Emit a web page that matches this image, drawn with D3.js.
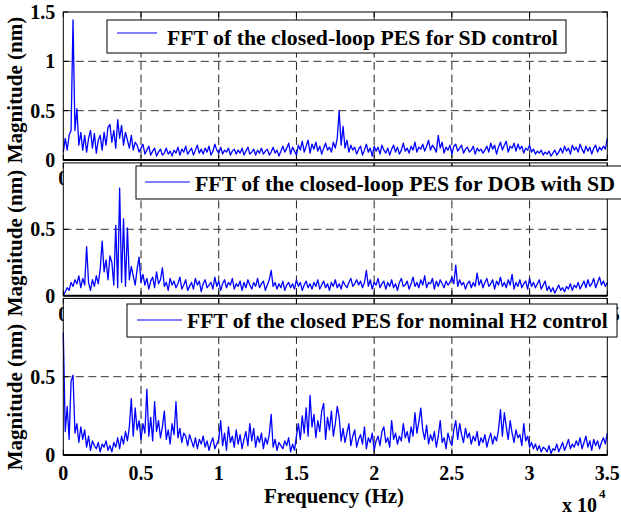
<!DOCTYPE html>
<html>
<head>
<meta charset="utf-8">
<style>
  body { margin: 0; background: #fff; }
  svg { display: block; }
  text { font-family: "Liberation Serif", "Times New Roman", serif; font-weight: bold; fill: #000; }
</style>
</head>
<body>
<svg width="621" height="516"></svg>
<script src="https://d3js.org/d3.v7.min.js"></script>
<script>

    // ---- data (one value per 125 Hz bin) ----
    var freqStep = 125;

    var sdMag = [
        0.08, 0.22, 0.10, 0.25, 0.30, 1.42, 0.30, 0.52, 0.15,
        0.28, 0.10, 0.25, 0.08, 0.22, 0.30, 0.12, 0.27,
        0.07, 0.20, 0.25, 0.10, 0.28, 0.15, 0.33, 0.36,
        0.18, 0.30, 0.12, 0.41, 0.22, 0.35, 0.15, 0.28,
        0.20, 0.12, 0.25, 0.10, 0.18, 0.15, 0.08, 0.12,
        0.16, 0.06, 0.10, 0.14, 0.05, 0.09, 0.12, 0.04,
        0.08, 0.11, 0.05, 0.07, 0.12, 0.06, 0.09, 0.04,
        0.10, 0.07, 0.13, 0.05, 0.11, 0.08, 0.14, 0.06,
        0.09, 0.12, 0.05, 0.10, 0.15, 0.07, 0.11, 0.06,
        0.12, 0.08, 0.14, 0.05, 0.09, 0.16, 0.10, 0.07,
        0.13, 0.06, 0.10, 0.08, 0.12, 0.05, 0.09, 0.11,
        0.06, 0.10, 0.07, 0.12, 0.05, 0.09, 0.13, 0.06,
        0.08, 0.11, 0.05, 0.10, 0.07, 0.12, 0.06, 0.09,
        0.11, 0.05, 0.08, 0.13, 0.07, 0.10, 0.04, 0.09,
        0.14, 0.08, 0.12, 0.17, 0.06, 0.13, 0.09, 0.05,
        0.15, 0.10, 0.19, 0.08, 0.14, 0.20, 0.07, 0.16,
        0.11, 0.18, 0.09, 0.14, 0.06, 0.12, 0.17, 0.10,
        0.13, 0.08, 0.18, 0.12, 0.22, 0.50, 0.15, 0.34,
        0.12, 0.20, 0.08, 0.15, 0.10, 0.13, 0.06, 0.11,
        0.14, 0.05, 0.10, 0.16, 0.08, 0.12, 0.04, 0.14,
        0.09, 0.13, 0.06, 0.15, 0.10, 0.07, 0.12, 0.05,
        0.11, 0.15, 0.08, 0.13, 0.06, 0.10, 0.17, 0.09,
        0.12, 0.07, 0.14, 0.10, 0.18, 0.08, 0.13, 0.11,
        0.16, 0.09, 0.14, 0.20, 0.10, 0.15, 0.12, 0.08,
        0.25, 0.12, 0.18, 0.07, 0.13, 0.10, 0.15, 0.06,
        0.14, 0.16, 0.09, 0.12, 0.15, 0.07, 0.11, 0.13,
        0.08, 0.10, 0.14, 0.06, 0.12, 0.09, 0.11, 0.07,
        0.10, 0.14, 0.08, 0.17, 0.11, 0.15, 0.06, 0.13,
        0.18, 0.10, 0.15, 0.19, 0.08, 0.14, 0.12, 0.17,
        0.09, 0.16, 0.11, 0.14, 0.07, 0.12, 0.10, 0.15,
        0.08, 0.11, 0.06, 0.09, 0.07, 0.10, 0.05, 0.08,
        0.06, 0.09, 0.04, 0.07, 0.10, 0.05, 0.08, 0.12,
        0.07, 0.14, 0.09, 0.12, 0.06, 0.15, 0.10, 0.13,
        0.08, 0.16, 0.11, 0.07, 0.14, 0.09, 0.13, 0.06,
        0.12, 0.15, 0.08, 0.13, 0.10, 0.14, 0.11, 0.22
    ];

    var dobMag = [
        0.00, 0.03, 0.06, 0.04, 0.10, 0.07, 0.12, 0.09, 0.15,
        0.06, 0.13, 0.08, 0.37, 0.10, 0.04, 0.12, 0.07,
        0.15, 0.09, 0.20, 0.41, 0.18, 0.27, 0.12, 0.30,
        0.25, 0.08, 0.53, 0.06, 0.81, 0.10, 0.58, 0.07,
        0.51, 0.12, 0.22, 0.15, 0.08, 0.20, 0.29, 0.10,
        0.16, 0.08, 0.13, 0.05, 0.11, 0.14, 0.06, 0.18,
        0.09, 0.12, 0.21, 0.07, 0.10, 0.04, 0.13, 0.08,
        0.11, 0.06, 0.09, 0.14, 0.05, 0.08, 0.12, 0.04,
        0.07, 0.10, 0.05, 0.13, 0.08, 0.11, 0.03, 0.09,
        0.12, 0.06, 0.08, 0.10, 0.05, 0.14, 0.07, 0.11,
        0.04, 0.09, 0.12, 0.06, 0.10, 0.08, 0.13, 0.05,
        0.09, 0.07, 0.11, 0.04, 0.10, 0.06, 0.12, 0.08,
        0.05, 0.10, 0.07, 0.13, 0.06, 0.09, 0.11, 0.04,
        0.08, 0.12, 0.19, 0.07, 0.10, 0.05, 0.09, 0.06,
        0.11, 0.04, 0.08, 0.10, 0.06, 0.09, 0.05, 0.12,
        0.07, 0.10, 0.04, 0.08, 0.11, 0.06, 0.09, 0.05,
        0.10, 0.07, 0.12, 0.05, 0.08, 0.11, 0.06, 0.09,
        0.04, 0.10, 0.07, 0.12, 0.06, 0.09, 0.05, 0.11,
        0.08, 0.06, 0.10, 0.13, 0.07, 0.09, 0.12, 0.08,
        0.11, 0.06, 0.10, 0.19, 0.07, 0.12, 0.05, 0.10,
        0.08, 0.13, 0.06, 0.09, 0.11, 0.05, 0.10, 0.07,
        0.12, 0.06, 0.09, 0.04, 0.10, 0.13, 0.07, 0.08,
        0.11, 0.05, 0.09, 0.14, 0.07, 0.10, 0.06, 0.12,
        0.08, 0.15, 0.06, 0.10, 0.09, 0.13, 0.05, 0.11,
        0.07, 0.12, 0.09, 0.06, 0.11, 0.08, 0.10, 0.14,
        0.09, 0.23, 0.07, 0.12, 0.08, 0.10, 0.05, 0.09,
        0.11, 0.06, 0.10, 0.07, 0.17, 0.08, 0.12, 0.06,
        0.10, 0.13, 0.07, 0.09, 0.12, 0.05, 0.11, 0.08,
        0.14, 0.07, 0.10, 0.06, 0.12, 0.08, 0.16, 0.05,
        0.10, 0.07, 0.12, 0.06, 0.09, 0.11, 0.05, 0.13,
        0.07, 0.10, 0.06, 0.09, 0.12, 0.05, 0.08, 0.11,
        0.04, 0.07, 0.03, 0.06, 0.02, 0.05, 0.08, 0.04,
        0.06, 0.03, 0.07, 0.05, 0.09, 0.04, 0.08, 0.06,
        0.10, 0.05, 0.08, 0.11, 0.06, 0.12, 0.07, 0.09,
        0.13, 0.06, 0.10, 0.14, 0.08, 0.11, 0.07, 0.10
    ];

    var h2Mag = [
        0.78, 0.15, 0.31, 0.10, 0.47, 0.51, 0.14, 0.20, 0.08,
        0.18, 0.10, 0.16, 0.05, 0.12, 0.03, 0.09, 0.06,
        0.04, 0.08, 0.02, 0.07, 0.05, 0.09, 0.03, 0.06,
        0.02, 0.08, 0.05, 0.11, 0.04, 0.12, 0.07, 0.15,
        0.09, 0.18, 0.36, 0.12, 0.30, 0.16, 0.22, 0.10,
        0.20, 0.14, 0.42, 0.12, 0.24, 0.09, 0.34, 0.15,
        0.22, 0.11, 0.18, 0.28, 0.10, 0.16, 0.07, 0.20,
        0.13, 0.34, 0.11, 0.17, 0.08, 0.14, 0.12, 0.06,
        0.13, 0.09, 0.05, 0.11, 0.04, 0.10, 0.07, 0.12,
        0.05, 0.09, 0.03, 0.08, 0.11, 0.04, 0.07, 0.10,
        0.22, 0.06, 0.14, 0.03, 0.18, 0.08, 0.12, 0.05,
        0.16, 0.07, 0.13, 0.04, 0.10, 0.15, 0.06, 0.20,
        0.09, 0.17, 0.05, 0.12, 0.08, 0.14, 0.04, 0.11,
        0.07, 0.13, 0.26, 0.05, 0.10, 0.03, 0.08, 0.06,
        0.04, 0.09, 0.06, 0.11, 0.02, 0.07, 0.03, 0.12,
        0.20, 0.10, 0.25, 0.14, 0.30, 0.12, 0.38, 0.18,
        0.26, 0.11, 0.22, 0.15, 0.28, 0.33, 0.10, 0.24,
        0.16, 0.28, 0.12, 0.20, 0.31, 0.24, 0.09, 0.17,
        0.08, 0.14, 0.20, 0.06, 0.12, 0.16, 0.05, 0.10,
        0.13, 0.07, 0.18, 0.04, 0.11, 0.08, 0.14, 0.03,
        0.09, 0.12, 0.06, 0.15, 0.18, 0.08, 0.11, 0.05,
        0.22, 0.10, 0.14, 0.07, 0.12, 0.09, 0.20, 0.11,
        0.15, 0.08, 0.18, 0.12, 0.27, 0.14, 0.21, 0.30,
        0.16, 0.10, 0.19, 0.07, 0.13, 0.09, 0.15, 0.05,
        0.12, 0.22, 0.08, 0.11, 0.04, 0.14, 0.09, 0.06,
        0.16, 0.22, 0.10, 0.20, 0.13, 0.08, 0.17, 0.11,
        0.14, 0.07, 0.12, 0.09, 0.15, 0.06, 0.11, 0.08,
        0.13, 0.05, 0.10, 0.14, 0.07, 0.12, 0.09, 0.16,
        0.29, 0.12, 0.27, 0.18, 0.10, 0.22, 0.14, 0.08,
        0.16, 0.11, 0.13, 0.06, 0.20, 0.09, 0.12, 0.05,
        0.08, 0.04, 0.07, 0.03, 0.06, 0.02, 0.05, 0.04,
        0.02, 0.06, 0.01, 0.04, 0.03, 0.07, 0.02, 0.05,
        0.08, 0.03, 0.06, 0.10, 0.04, 0.07, 0.05, 0.09,
        0.06, 0.11, 0.04, 0.08, 0.12, 0.05, 0.09, 0.03,
        0.10, 0.06, 0.09, 0.04, 0.08, 0.11, 0.07, 0.14
    ];

    var legendLabels = [
        "FFT of the closed-loop PES for SD control",
        "FFT of the closed-loop PES for DOB with SD",
        "FFT of the closed PES for nominal H2 control"
    ];

    var xTickValues = [0, 5000, 10000, 15000, 20000, 25000, 30000, 35000];
    var xTickLabels = ["0", "0.5", "1", "1.5", "2", "2.5", "3", "3.5"];
    var yTicksTop = [0, 0.5, 1, 1.5];
    var yTicksLow = [0, 0.5];

    /* --------------------
     Layout
   -------------------- */
    var svg = d3.select("svg");

    var x = d3.scaleLinear().domain([0, 35000]).range([63.3, 607.3]);

    // showX: which x tick labels peek out from under the next panel
    var panels = [
        { data: sdMag,  top: 12,    bottom: 160,   ymax: 1.5, ticks: yTicksTop, labelY: 90,
          showX: [0],
          box: [107, 20, 566, 53],   line: [117, 157, 33],  text: [167, 45],  width: 391 },
        { data: dobMag, top: 162.9, bottom: 295.7, ymax: 1,   ticks: yTicksLow, labelY: 243,
          showX: [0, 35000],
          box: [136, 166, 640, 199], line: [145, 190, 182], text: [195, 191], width: 420 },
        { data: h2Mag,  top: 298.4, bottom: 455,   ymax: 1,   ticks: yTicksLow, labelY: 397,
          showX: xTickValues,
          box: [127, 304, 617, 337], line: [137, 182, 320], text: [187, 328], width: 421 }
    ];

    var x0 = x.range()[0], x1 = x.range()[1];

    panels.forEach(function(p, k) {
        var y = d3.scaleLinear().domain([0, p.ymax]).range([p.bottom, p.top]);
        var g = svg.append("g");

        // x tick labels first, so the next panel can sit on top of them
        g.selectAll(".xl")
            .data(p.showX)
            .enter().append("text")
            .attr("x", function(d) { return x(d); })
            .attr("y", p.bottom + 25)
            .attr("text-anchor", "middle")
            .style("font-size", "20px")
            .text(function(d) { return xTickLabels[xTickValues.indexOf(d)]; });

        // axes background hides what the panel above printed underneath it
        g.append("rect")
            .attr("x", x0).attr("y", p.top)
            .attr("width", x1 - x0).attr("height", p.bottom - p.top)
            .attr("fill", "#fff");

        // grid
        g.selectAll(".vg")
            .data(xTickValues.slice(1, -1))
            .enter().append("line")
            .attr("x1", function(d) { return x(d); })
            .attr("x2", function(d) { return x(d); })
            .attr("y1", p.top).attr("y2", p.bottom)
            .attr("stroke", "#222").attr("stroke-width", 1)
            .attr("stroke-dasharray", "8,4.5");

        g.selectAll(".hg")
            .data(p.ticks.filter(function(t) { return t > 0 && t < p.ymax; }))
            .enter().append("line")
            .attr("x1", x0).attr("x2", x1)
            .attr("y1", function(d) { return y(d); })
            .attr("y2", function(d) { return y(d); })
            .attr("stroke", "#333").attr("stroke-width", 1)
            .attr("stroke-dasharray", "8,4.5");

        // the spectrum
        var line = d3.line()
            .x(function(d, i) { return x(i * freqStep); })
            .y(function(d) { return y(d); });

        g.append("path")
            .datum(p.data)
            .attr("d", line)
            .attr("fill", "none")
            .attr("stroke", "#0000ff")
            .attr("stroke-width", 1.3)
            .attr("stroke-linejoin", "round");

        // box
        g.append("rect")
            .attr("x", x0).attr("y", p.top)
            .attr("width", x1 - x0).attr("height", p.bottom - p.top)
            .attr("fill", "none").attr("stroke", "#000").attr("stroke-width", 1);
        g.append("line")
            .attr("x1", x0).attr("x2", x1)
            .attr("y1", p.bottom).attr("y2", p.bottom)
            .attr("stroke", "#000").attr("stroke-width", 2);

        // inward ticks on all sides
        var tl = 5;
        xTickValues.forEach(function(v) {
            g.append("line").attr("x1", x(v)).attr("x2", x(v))
                .attr("y1", p.bottom).attr("y2", p.bottom - tl).attr("stroke", "#000");
            g.append("line").attr("x1", x(v)).attr("x2", x(v))
                .attr("y1", p.top).attr("y2", p.top + tl).attr("stroke", "#000");
        });
        p.ticks.forEach(function(v) {
            g.append("line").attr("x1", x0).attr("x2", x0 + tl)
                .attr("y1", y(v)).attr("y2", y(v)).attr("stroke", "#000");
            g.append("line").attr("x1", x1).attr("x2", x1 - tl)
                .attr("y1", y(v)).attr("y2", y(v)).attr("stroke", "#000");
        });

        // y tick labels
        g.selectAll(".yl")
            .data(p.ticks)
            .enter().append("text")
            .attr("x", x0 - 8)
            .attr("y", function(d) { return y(d) + 7; })
            .attr("text-anchor", "end")
            .style("font-size", "20px")
            .text(function(d) { return d3.format("~g")(d); });

        // y label
        g.append("text")
            .attr("transform", "translate(22," + p.labelY + ") rotate(-90)")
            .attr("text-anchor", "middle")
            .style("font-size", "21px")
            .text("Magnitude (nm)");

        // legend
        var b = p.box;
        g.append("rect")
            .attr("x", b[0]).attr("y", b[1])
            .attr("width", b[2] - b[0]).attr("height", b[3] - b[1])
            .attr("fill", "#fff").attr("stroke", "#000").attr("stroke-width", 1);
        g.append("line")
            .attr("x1", p.line[0]).attr("x2", p.line[1])
            .attr("y1", p.line[2]).attr("y2", p.line[2])
            .attr("stroke", "#0000ff").attr("stroke-width", 1.1);
        var lt = g.append("text")
            .attr("x", p.text[0]).attr("y", p.text[1])
            .style("font-size", "20px")
            .text(legendLabels[k]);
        var w = lt.node().getComputedTextLength();
        lt.style("font-size", (20 * p.width / w).toFixed(2) + "px");
    });

    // x label and exponent
    svg.append("text")
        .attr("x", 334).attr("y", 503)
        .attr("text-anchor", "middle")
        .style("font-size", "21px")
        .text("Frequency (Hz)");

    svg.append("text")
        .attr("x", 562).attr("y", 512)
        .style("font-size", "20px")
        .text("x 10");
    svg.append("text")
        .attr("x", 599).attr("y", 498)
        .style("font-size", "13px")
        .text("4");

</script>
</body>
</html>
